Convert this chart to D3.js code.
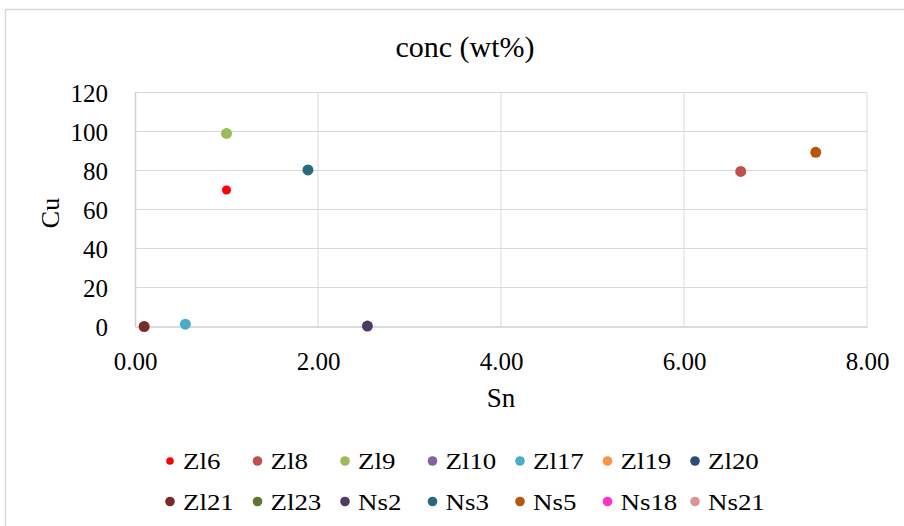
<!DOCTYPE html>
<html>
<head>
<meta charset="utf-8">
<script src="https://cdn.jsdelivr.net/npm/d3@7"></script>
<style>
  html, body { margin: 0; padding: 0; background: #fff; }
  svg text { font-family: "Liberation Serif", "Times New Roman", Tinos, "DejaVu Serif", serif !important; fill: #000; }
</style>
</head>
<body>
<svg id="chart" width="904" height="526"></svg>
<script>
// Sample names, marker colours and Sn / Cu concentrations (wt%)
const seriesNames = ["Zl6", "Zl8", "Zl9", "Zl10", "Zl17", "Zl19", "Zl20",
                     "Zl21", "Zl23", "Ns2", "Ns3", "Ns5", "Ns18", "Ns21"];
const seriesColors = ["#FF0000", "#C0504D", "#9BBB59", "#8064A2", "#4BACC6", "#F79646", "#2C4D75",
                      "#772C2A", "#5F7530", "#4D3B62", "#276A7C", "#B65708", "#FF33CC", "#D99694"];
// one Sn value and one Cu value per sample; null where no point is plotted
const snValues = [1.00, 6.62, 1.00, null, 0.55, null, null, 0.10, null, 2.54, 1.89, 7.44, null, null];
const cuValues = [70, 79.5, 99, null, 1.2, null, null, 0, null, 0.2, 80.3, 89.3, null, null];
const markerRadius = [4.5, 5.5, 5.5, 5.5, 5.5, 5.5, 5.5, 5.5, 5.5, 5.5, 5.5, 5.5, 5.5, 5.5];

const xTicks = [0, 2, 4, 6, 8];
const yTicks = [0, 20, 40, 60, 80, 100, 120];

const svg = d3.select("#chart");
const plot = { left: 135, right: 867, top: 92.5, bottom: 326.5 };

// widen a text horizontally around its anchor point
function widen(sel, k) {
  sel.attr("transform", function () {
    const ax = +this.getAttribute("x") || 0;
    const ay = +this.getAttribute("y") || 0;
    return `translate(${ax},${ay}) scale(${k},1) translate(${-ax},${-ay})`;
  });
}

// outer chart frame
svg.append("rect")
  .attr("x", 5.5).attr("y", 9.5)
  .attr("width", 920).attr("height", 540)
  .attr("fill", "#fff").attr("stroke", "#D9D9D9").attr("stroke-width", 1.5);

const x = d3.scaleLinear().domain([0, 8]).range([plot.left, plot.right]);
const y = d3.scaleLinear().domain([0, 120]).range([plot.bottom, plot.top]);

// gridlines
svg.append("g")
  .selectAll("line").data(yTicks.filter(d => d > 0)).join("line")
  .attr("x1", plot.left).attr("x2", plot.right)
  .attr("y1", d => y(d)).attr("y2", d => y(d))
  .attr("stroke", "#D9D9D9").attr("stroke-width", 1);
svg.append("g")
  .selectAll("line").data(xTicks.filter(d => d > 0)).join("line")
  .attr("x1", d => x(d)).attr("x2", d => x(d))
  .attr("y1", plot.top).attr("y2", plot.bottom)
  .attr("stroke", "#D9D9D9").attr("stroke-width", 1);

// axes
const xAxis = svg.append("g")
  .attr("transform", `translate(0,${plot.bottom})`)
  .call(d3.axisBottom(x).tickValues(xTicks).tickFormat(d3.format(".2f")).tickSize(0).tickPadding(43.5));
const yAxis = svg.append("g")
  .attr("transform", `translate(${plot.left},0)`)
  .call(d3.axisLeft(y).tickValues(yTicks).tickSize(0).tickPadding(27));
[xAxis, yAxis].forEach(g => {
  g.attr("font-family", null);
  g.select(".domain").attr("stroke", "#CFCFCF").attr("stroke-width", 1.5);
  g.selectAll("text").attr("font-size", 25).attr("fill", "#000");
});
yAxis.selectAll("text").attr("dy", "0.34em");
xAxis.selectAll("text").attr("dy", "0");

// titles
svg.append("text").attr("x", 465).attr("y", 57)
  .attr("text-anchor", "middle").attr("font-size", 30).text("conc (wt%)");
svg.append("text").attr("x", 501).attr("y", 407)
  .attr("text-anchor", "middle").attr("font-size", 27).text("Sn");
svg.append("text")
  .attr("transform", `translate(59,213) rotate(-90)`)
  .attr("text-anchor", "middle").attr("font-size", 26).text("Cu");

// scatter points
const points = seriesNames.map((name, i) => ({
  name, color: seriesColors[i], sn: snValues[i], cu: cuValues[i], r: markerRadius[i]
})).filter(d => d.sn !== null && d.cu !== null);
svg.append("g").selectAll("circle").data(points).join("circle")
  .attr("cx", d => x(d.sn)).attr("cy", d => y(d.cu))
  .attr("r", d => d.r).attr("fill", d => d.color);

// legend: two rows of seven
const legend = svg.append("g");
const perRow = 7;
const items = legend.selectAll("g").data(seriesNames).join("g")
  .attr("transform", (d, i) =>
    `translate(${170 + (i % perRow) * 87.5},${461 + Math.floor(i / perRow) * 40.5})`);
items.append("circle").attr("r", (d, i) => markerRadius[i] - 0.7)
  .attr("fill", (d, i) => seriesColors[i]);
items.append("text").attr("x", 13).attr("y", 8)
  .attr("font-size", 23).text(d => d)
  .call(widen, 1.17);
</script>
</body>
</html>
